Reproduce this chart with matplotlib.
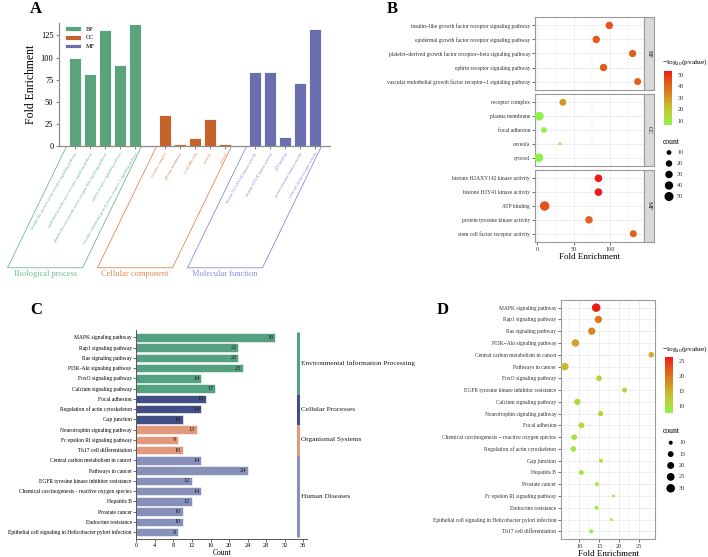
import matplotlib.pyplot as plt
import numpy as np
import matplotlib.transforms as mtransforms
from matplotlib.colors import LinearSegmentedColormap, Normalize
from matplotlib.cm import ScalarMappable

plt.rcParams['font.family'] = ['Liberation Serif', 'DejaVu Serif']
plt.rcParams['mathtext.fontset'] = 'custom'
plt.rcParams['mathtext.rm'] = 'Liberation Serif'

# ---------------- GO data (panels A and B)
bp_terms = ['insulin-like growth factor receptor signaling pathway',
            'epidermal growth factor receptor signaling pathway',
            'platelet-derived growth factor receptor-beta signaling pathway',
            'ephrin receptor signaling pathway',
            'vascular endothelial growth factor receptor-1 signaling pathway']
cc_terms = ['receptor complex', 'plasma membrane', 'focal adhesion', 'caveola', 'cytosol']
mf_terms = ['histone H2AXY142 kinase activity', 'histone H3Y41 kinase activity',
            'ATP binding', 'protein tyrosine kinase activity',
            'stem cell factor receptor activity']
bp_fold = [99, 81, 131, 91, 138]
cc_fold = [35, 2.7, 9, 31, 2]
mf_fold = [84, 84, 10, 71, 132]
bp_logp = [44, 42, 42, 42, 41]
cc_logp = [30, 6.5, 8, 8, 6.2]
mf_logp = [53.5, 53, 45, 41, 41]
bp_count = [30, 30, 28, 30, 26]
cc_count = [24, 45, 14, 6, 46]
mf_count = [32, 32, 57, 30, 26]
go_keys = ['BP', 'CC', 'MF']
go_names = ['Biological process', 'Cellular component', 'Molecular function']

# ---------------- KEGG data (panel C)
c_terms = ['MAPK signaling pathway', 'Rap1 signaling pathway', 'Ras signaling pathway',
           'PI3K-Akt signaling pathway', 'FoxO signaling pathway', 'Calcium signaling pathway',
           'Focal adhesion', 'Regulation of actin cytoskeleton', 'Gap junction',
           'Neurotrophin signaling pathway', 'Fc epsilon RI signaling pathway',
           'Th17 cell differentiation', 'Central carbon metabolism in cancer',
           'Pathways in cancer', 'EGFR tyrosine kinase inhibitor resistance',
           'Chemical carcinogenesis - reactive oxygen species', 'Hepatitis B',
           'Prostate cancer', 'Endocrine resistance',
           'Epithelial cell signaling in Helicobacter pylori infection']
c_count = [30, 22, 22, 23, 14, 17, 15, 14, 10, 13, 9, 10, 14, 24, 12, 14, 12, 10, 10, 9]
c_classes = ['Environmental Information Processing', 'Cellular Processes',
             'Organismal Systems', 'Human Diseases']
c_class_sizes = [6, 3, 3, 8]

# ---------------- KEGG data (panel D)
d_terms = ['MAPK signaling pathway', 'Rap1 signaling pathway', 'Ras signaling pathway',
           'PI3K\u2212Akt signaling pathway', 'Central carbon metabolism in cancer',
           'Pathways in cancer', 'FoxO signaling pathway',
           'EGFR tyrosine kinase inhibitor resistance', 'Calcium signaling pathway',
           'Neurotrophin signaling pathway', 'Focal adhesion',
           'Chemical carcinogenesis \u2212 reactive oxygen species',
           'Regulation of actin cytoskeleton', 'Gap junction', 'Hepatitis B',
           'Prostate cancer', 'Fc epsilon RI signaling pathway', 'Endocrine resistance',
           'Epithelial cell signaling in Helicobacter pylori infection',
           'Th17 cell differentiation']
d_fold = [14.2, 14.75, 13.1, 9.0, 28.0, 6.35, 14.9, 21.3, 9.5, 15.3,
          10.5, 8.7, 8.5, 15.4, 10.5, 14.4, 18.5, 14.3, 18.0, 13.0]
d_count = [30, 22, 22, 23, 14, 24, 14, 12, 17, 13, 15, 14, 14, 10, 12, 10, 9, 10, 9, 10]
d_logp = [26.3, 19.5, 18.5, 16, 15, 14, 12, 11.5, 11, 10.8,
          10.5, 10.2, 10, 9.5, 9.2, 8.8, 8.5, 8.2, 8, 7.7]

# ---------------- styles
go_bar_col = ['#5BA37D', '#C6632B', '#6A6EAE']
go_txt_col = ['#6DBB93', '#E08A52', '#8A8AD8']
c_colors = ['#55A080', '#444E86', '#E39A7C', '#8690B8']
cmap = LinearSegmentedColormap.from_list(
    'pv', ['#8DF24A', '#B9D43A', '#C9B02E', '#D9801F', '#E2561B', '#EE1A14'])
grid_col = '#EBEBEB'
border_col = '#9A9A9A'

W, H = 708, 557


def box(l, t, r, b):
    return [l / W, 1 - b / H, (r - l) / W, (b - t) / H]


def dot_size(v, vmin, vmax, dmin, dmax):
    f = np.clip((np.asarray(v, float) - vmin) / (vmax - vmin), 0, 1)
    d_px = dmin + (dmax - dmin) * np.sqrt(f)
    return (d_px * 0.72) ** 2


fig = plt.figure(figsize=(W / 100, H / 100), dpi=100)

# ======================= A
axA = fig.add_axes(box(59, 23, 330, 146))
trans = mtransforms.blended_transform_factory(axA.transData, axA.transAxes)
ticks, labels, lcols = [], [], []
for k, (terms, fold) in enumerate(zip([bp_terms, cc_terms, mf_terms],
                                      [bp_fold, cc_fold, mf_fold])):
    pos = np.arange(len(terms)) + k * (len(terms) + 1)
    axA.bar(pos, fold, width=0.8, color=go_bar_col[k], edgecolor='white',
            lw=0.6, label=go_keys[k])
    ticks += list(pos)
    labels += terms
    lcols += [go_txt_col[k]] * len(terms)
    xl, xr = pos[0] - 0.6, pos[-1] + 0.4
    shift = 3.9
    axA.plot([xl, xl - shift, xr - shift, xr], [-0.01, -0.99, -0.99, -0.01],
             transform=trans, color=go_txt_col[k], lw=0.6, clip_on=False)
    axA.text((xl + xr) / 2 - shift, -1.04, go_names[k], transform=trans,
             ha='center', va='center', fontsize=6, color=go_txt_col[k])
axA.set_xticks(ticks)
axA.set_xticklabels(labels, rotation=60, ha='right', va='top',
                    rotation_mode='anchor', fontsize=3)
for t, c in zip(axA.get_xticklabels(), lcols):
    t.set_color(c)
axA.set_xlim(-1.07, 17.0)
axA.set_ylim(0, 139)
axA.set_yticks([0, 25, 50, 75, 100, 125])
axA.set_ylabel('Fold Enrichment', fontsize=8.5, labelpad=3)
for s in ['top', 'right']:
    axA.spines[s].set_visible(False)
for s in ['left', 'bottom']:
    axA.spines[s].set_color('#8C8C8C')
    axA.spines[s].set_linewidth(0.9)
axA.tick_params(axis='y', labelsize=6, length=2.5, color='#8C8C8C', pad=1.5)
axA.tick_params(axis='x', length=2.5, color='#8C8C8C', pad=1.5)
axA.legend(loc='upper left', bbox_to_anchor=(0.0, 1.02), fontsize=4.5, frameon=False,
           handlelength=2.6, handleheight=0.8, labelspacing=0.5)
fig.text(36 / W, 1 - 9 / H, 'A', fontsize=12, fontweight='bold', va='center', ha='center')

# ======================= B
b_norm = Normalize(min(bp_logp + cc_logp + mf_logp), max(bp_logp + cc_logp + mf_logp))
b_all_count = bp_count + cc_count + mf_count
b_cmin, b_cmax = min(b_all_count), max(b_all_count)
b_rows = [(17, 90), (94, 166), (170, 242)]
for k, (terms, fold, logp, cnt) in enumerate(zip(
        [bp_terms, cc_terms, mf_terms], [bp_fold, cc_fold, mf_fold],
        [bp_logp, cc_logp, mf_logp], [bp_count, cc_count, mf_count])):
    top, bot = b_rows[k]
    ax = fig.add_axes(box(535, top, 644, bot))
    y = np.arange(len(terms))
    ax.set_axisbelow(True)
    ax.scatter(fold, y, s=dot_size(cnt, b_cmin, b_cmax, 3, 9.5), c=logp, cmap=cmap,
               norm=b_norm, linewidths=0, zorder=3)
    ax.set_ylim(len(terms) - 0.4, -0.6)
    ax.set_xlim(-3.3, 146.7)
    ax.set_yticks(y)
    ax.set_yticklabels([t.replace('-', '\u2212') for t in terms], fontsize=4)
    ax.set_xticks([0, 50, 100])
    ax.set_xticks([25, 75, 125], minor=True)
    ax.grid(True, which='major', color=grid_col, lw=0.6)
    ax.grid(True, which='minor', axis='x', color=grid_col, lw=0.35)
    ax.tick_params(axis='both', which='major', length=2, color='#333333', width=0.5,
                   labelsize=4.5, labelcolor='#333333', pad=1.5)
    ax.tick_params(which='minor', length=0)
    ax.tick_params(axis='y', labelsize=4)
    for s in ax.spines.values():
        s.set_color(border_col)
        s.set_linewidth(0.8)
    if k < 2:
        ax.tick_params(axis='x', length=0, labelbottom=False)
    else:
        ax.set_xlabel('Fold Enrichment', fontsize=6.5, labelpad=1)
    sax = fig.add_axes(box(644, top, 654, bot))
    sax.set_facecolor('#D9D9D9')
    sax.set_xticks([])
    sax.set_yticks([])
    for s in sax.spines.values():
        s.set_color(border_col)
        s.set_linewidth(0.8)
    sax.text(0.5, 0.5, go_keys[k], rotation=-90, ha='center', va='center',
             fontsize=4.5, color='#1A1A1A', transform=sax.transAxes)

fig.text(662 / W, 1 - 62 / H, '\u2212log$_{\\mathrm{10}}$(pvalue)', fontsize=5.4,
         va='center', ha='left')
cbB = fig.colorbar(ScalarMappable(b_norm, cmap), cax=fig.add_axes(box(664, 71, 672, 125)))
cbB.set_ticks([10, 20, 30, 40, 50])
cbB.outline.set_visible(False)
cbB.ax.tick_params(labelsize=4.5, length=2, color='white', pad=2, labelcolor='#333333')

fig.text(663 / W, 1 - 142 / H, 'count', fontsize=5.5, va='center', ha='left')
lgB = fig.add_axes(box(660, 147, 700, 202))
leg_vals_b = [10, 20, 30, 40, 50]
lgB.scatter([9] * 5, range(5), s=dot_size(leg_vals_b, b_cmin, b_cmax, 3, 9.5),
            color='black', linewidths=0)
for i, v in enumerate(leg_vals_b):
    lgB.text(17, i, str(v), fontsize=4.5, va='center', color='#333333')
lgB.set_xlim(0, 40)
lgB.set_ylim(4.5, -0.5)
lgB.axis('off')
fig.text(392 / W, 1 - 9 / H, 'B', fontsize=12, fontweight='bold', va='center', ha='center')

# ======================= C
axC = fig.add_axes(box(136.3, 330, 307, 539))
yc = np.arange(len(c_terms))
c_bar_col = []
for ci, n in enumerate(c_class_sizes):
    c_bar_col += [c_colors[ci]] * n
axC.barh(yc, c_count, height=0.84, color=c_bar_col, edgecolor='white', lw=0.4)
for yi, v in zip(yc, c_count):
    axC.text(v - 0.4, yi, str(v), ha='right', va='center', fontsize=4.5, color='#1A1A1A')
start = 0
for ci, n in enumerate(c_class_sizes):
    axC.plot([34.9, 34.9], [start - 0.5, start + n - 0.5], color=c_colors[ci],
             lw=2.2, solid_capstyle='butt', clip_on=False)
    axC.text(35.6, start + (n - 1) / 2, c_classes[ci], fontsize=5.2, va='center',
             ha='left', color='#1A1A1A', clip_on=False)
    start += n
axC.set_ylim(len(c_terms) - 0.33, -0.72)
axC.set_xlim(0, 36.8)
axC.set_xticks(np.arange(0, 37, 4))
axC.set_yticks(yc)
axC.set_yticklabels(c_terms, fontsize=4)
axC.tick_params(axis='both', length=2, width=0.5, color='#333333', pad=1.2)
axC.tick_params(axis='x', labelsize=4.5)
for s in ['top', 'right']:
    axC.spines[s].set_visible(False)
for s in ['left', 'bottom']:
    axC.spines[s].set_color('#555555')
    axC.spines[s].set_linewidth(0.7)
axC.set_xlabel('Count', fontsize=5.5, labelpad=0.3)
fig.text(36 / W, 1 - 310 / H, 'C', fontsize=12, fontweight='bold', va='center', ha='center')

# ======================= D
axD = fig.add_axes(box(561, 300, 655.3, 539))
yd = np.arange(len(d_terms))
d_norm = Normalize(min(d_logp), max(d_logp))
d_cmin, d_cmax = min(d_count), max(d_count)
axD.set_axisbelow(True)
axD.scatter(d_fold, yd, s=dot_size(d_count, d_cmin, d_cmax, 2.8, 8.5), c=d_logp,
            cmap=cmap, norm=d_norm, linewidths=0, zorder=3)
axD.set_ylim(len(d_terms) - 0.35, -0.65)
axD.set_xlim(5.4, 29)
axD.set_xticks([10, 15, 20, 25])
axD.set_xticks([7.5, 12.5, 17.5, 22.5, 27.5], minor=True)
axD.set_yticks(yd)
axD.set_yticklabels(d_terms, fontsize=4)
axD.grid(True, which='major', color=grid_col, lw=0.6)
axD.grid(True, which='minor', axis='x', color=grid_col, lw=0.35)
axD.tick_params(axis='both', which='major', length=2, width=0.5, color='#333333',
                labelcolor='#333333', pad=1.5)
axD.tick_params(axis='x', labelsize=4.5)
axD.tick_params(which='minor', length=0)
for s in axD.spines.values():
    s.set_color(border_col)
    s.set_linewidth(0.8)
axD.set_xlabel('Fold Enrichment', fontsize=6.5, labelpad=0.5)

fig.text(662 / W, 1 - 349 / H, '\u2212log$_{\\mathrm{10}}$(pvalue)', fontsize=5.4,
         va='center', ha='left')
cbD = fig.colorbar(ScalarMappable(d_norm, cmap), cax=fig.add_axes(box(665, 357, 673, 413)))
cbD.set_ticks([10, 15, 20, 25])
cbD.outline.set_visible(False)
cbD.ax.tick_params(labelsize=4.5, length=2, color='white', pad=2, labelcolor='#333333')

fig.text(663 / W, 1 - 431 / H, 'count', fontsize=5.5, va='center', ha='left')
lgD = fig.add_axes(box(660, 437, 700, 494))
leg_vals_d = [10, 15, 20, 25, 30]
lgD.scatter([10.7] * 5, range(5), s=dot_size(leg_vals_d, d_cmin, d_cmax, 2.8, 8.5),
            color='black', linewidths=0)
for i, v in enumerate(leg_vals_d):
    lgD.text(19, i, str(v), fontsize=4.5, va='center', color='#333333')
lgD.set_xlim(0, 40)
lgD.set_ylim(4.5, -0.5)
lgD.axis('off')
fig.text(443 / W, 1 - 310 / H, 'D', fontsize=12, fontweight='bold', va='center', ha='center')

fig.savefig('out.png', dpi=100)
